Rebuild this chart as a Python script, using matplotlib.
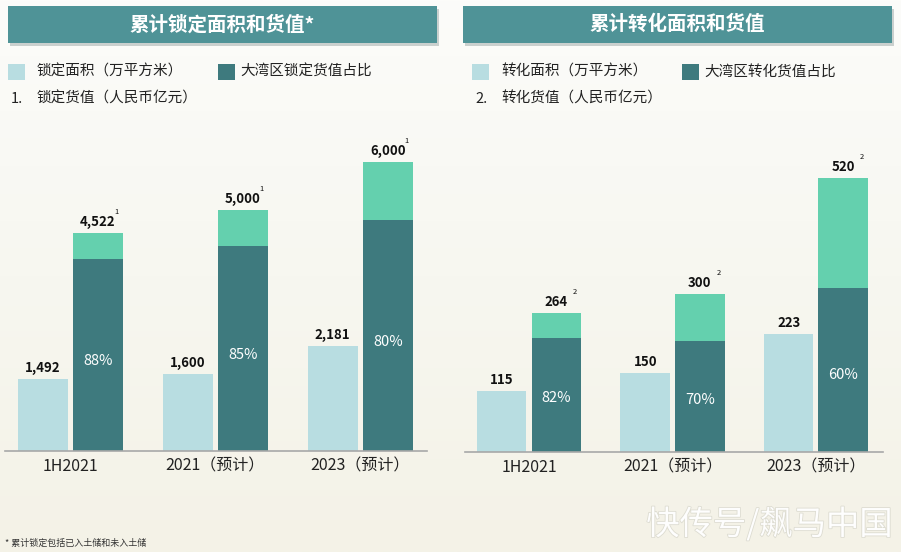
import matplotlib.pyplot as plt
import matplotlib.patheffects as pe
import numpy as np
from matplotlib.patches import Rectangle
from matplotlib.colors import LinearSegmentedColormap

plt.rcParams['font.family'] = ['Noto Sans CJK SC', 'DejaVu Sans']

# data
periods = ["1H2021", "2021（预计）", "2023（预计）"]

lock_area = [1492, 1600, 2181]          # 锁定面积（万平方米）
lock_value = [4522, 5000, 6000]         # 锁定货值（人民币亿元）
lock_gba_share = [0.88, 0.85, 0.80]     # 大湾区锁定货值占比

conv_area = [115, 150, 223]             # 转化面积（万平方米）
conv_value = [264, 300, 520]            # 转化货值（人民币亿元）
conv_gba_share = [0.82, 0.70, 0.60]     # 大湾区转化货值占比

LIGHT = "#b8dde1"
DARK = "#3e7a7e"
GREEN = "#64d0ae"
TEAL = "#4f9397"

W, H = 901, 552
fig = plt.figure(figsize=(W / 100, H / 100), dpi=100)
fig.patch.set_facecolor("#f9f9f5")

# soft background wash
bg = fig.add_axes([0, 0, 1, 1], zorder=-10)
grad = np.linspace(0, 1, 256).reshape(-1, 1)
bg.imshow(grad, aspect="auto", extent=[0, 1, 0, 1],
          cmap=LinearSegmentedColormap.from_list("bg", ["#fcfcfa", "#f7f7f0", "#f4f2e7"]))
bg.axis("off")


def px(x, y):
    return x / W, 1 - y / H


def title_bar(x0, x1, y0, y1, text):
    fx0, fy1 = px(x0, y1)
    w, h = (x1 - x0) / W, (y1 - y0) / H
    fig.patches.append(Rectangle((fx0 + 2 / W, fy1 - 3 / H), w, h, transform=fig.transFigure,
                                 facecolor="#9aa6a6", alpha=0.5, edgecolor="none", zorder=1))
    fig.patches.append(Rectangle((fx0, fy1), w, h, transform=fig.transFigure,
                                 facecolor=TEAL, edgecolor="none", zorder=2))
    cx, cy = px((x0 + x1) / 2, (y0 + y1) / 2)
    fig.text(cx, cy, text, color="white", fontsize=14, fontweight="bold",
             ha="center", va="center", zorder=3)


def legend_block(x_sq1, x_sq2, label1, label2, num, label3):
    for xs, col in [(x_sq1, LIGHT), (x_sq2, DARK)]:
        fx, fy = px(xs, 80)
        fig.patches.append(Rectangle((fx, fy), 17 / W, 16 / H, transform=fig.transFigure,
                                     facecolor=col, edgecolor="none"))
    fig.text(*px(x_sq1 + 29, 72), label1, fontsize=10.5, color="#222222", va="center")
    fig.text(*px(x_sq2 + 22, 72), label2, fontsize=10.5, color="#222222", va="center")
    fig.text(*px(x_sq1 + 3, 99), num, fontsize=10.5, color="#222222", va="center")
    fig.text(*px(x_sq1 + 29, 99), label3, fontsize=10.5, color="#222222", va="center")


def panel(rect, area, value, share, sup, xlim, ytop):
    ax = fig.add_axes(rect)
    ax.set_facecolor("none")
    x = np.arange(len(periods))
    off, bw = 0.19, 0.345
    value = np.array(value, dtype=float)
    dark = value * np.array(share)
    ax.bar(x - off, area, bw, color=LIGHT)
    ax.bar(x + off, dark, bw, color=DARK)
    ax.bar(x + off, value - dark, bw, bottom=dark, color=GREEN)
    for i in range(len(x)):
        ax.annotate(f"{area[i]:,}", (x[i] - off, area[i]), xytext=(0, 3), textcoords="offset points",
                    ha="center", va="bottom", fontsize=9.5, fontweight="bold", color="#111111")
        ax.annotate(f"{int(value[i]):,}", (x[i] + off, value[i]), xytext=(0, 3), textcoords="offset points",
                    ha="center", va="bottom", fontsize=9.5, fontweight="bold", color="#111111")
        ax.annotate(sup, (x[i] + off, value[i]), xytext=(12, 12), textcoords="offset points",
                    ha="left", va="bottom", fontsize=5.5, color="#111111")
        ax.text(x[i] + off, dark[i] * 0.47, f"{share[i]:.0%}", ha="center", va="center",
                fontsize=10.5, color="white")
    ax.set_xlim(*xlim)
    ax.set_ylim(0, max(value) * ytop)
    ax.set_xticks(x)
    ax.set_xticklabels(periods, fontsize=11.5, color="#222222")
    ax.tick_params(axis="x", length=0, pad=5)
    ax.set_yticks([])
    for s in ["top", "right", "left"]:
        ax.spines[s].set_visible(False)
    ax.spines["bottom"].set_color("#a8a8a8")
    ax.spines["bottom"].set_linewidth(1.2)
    return ax


title_bar(8, 437, 6, 43, "累计锁定面积和货值*")
title_bar(463, 892, 6, 43, "累计转化面积和货值")

legend_block(8, 218, "锁定面积（万平方米）", "大湾区锁定货值占比", "1.", "锁定货值（人民币亿元）")
legend_block(472, 682, "转化面积（万平方米）", "大湾区转化货值占比", "2.", "转化货值（人民币亿元）")

panel([5 / W, 1 - 451 / H, 422 / W, 311 / H], lock_area, lock_value, lock_gba_share, "1",
      (-0.45, 2.46), 1.076)
panel([465 / W, 1 - 452 / H, 418 / W, 312 / H], conv_area, conv_value, conv_gba_share, "2",
      (-0.446, 2.467), 1.138)

fig.text(*px(5, 543), "* 累计锁定包括已入土储和未入土储", fontsize=6.5, style="italic",
         color="#333333", va="center")
fig.text(*px(893, 525), "快传号/飙马中国", fontsize=24, color="white", alpha=0.95,
         ha="right", va="center",
         path_effects=[pe.withStroke(linewidth=1.2, foreground="#dcdbd0")])

fig.savefig("out.png", dpi=100, facecolor=fig.get_facecolor())
